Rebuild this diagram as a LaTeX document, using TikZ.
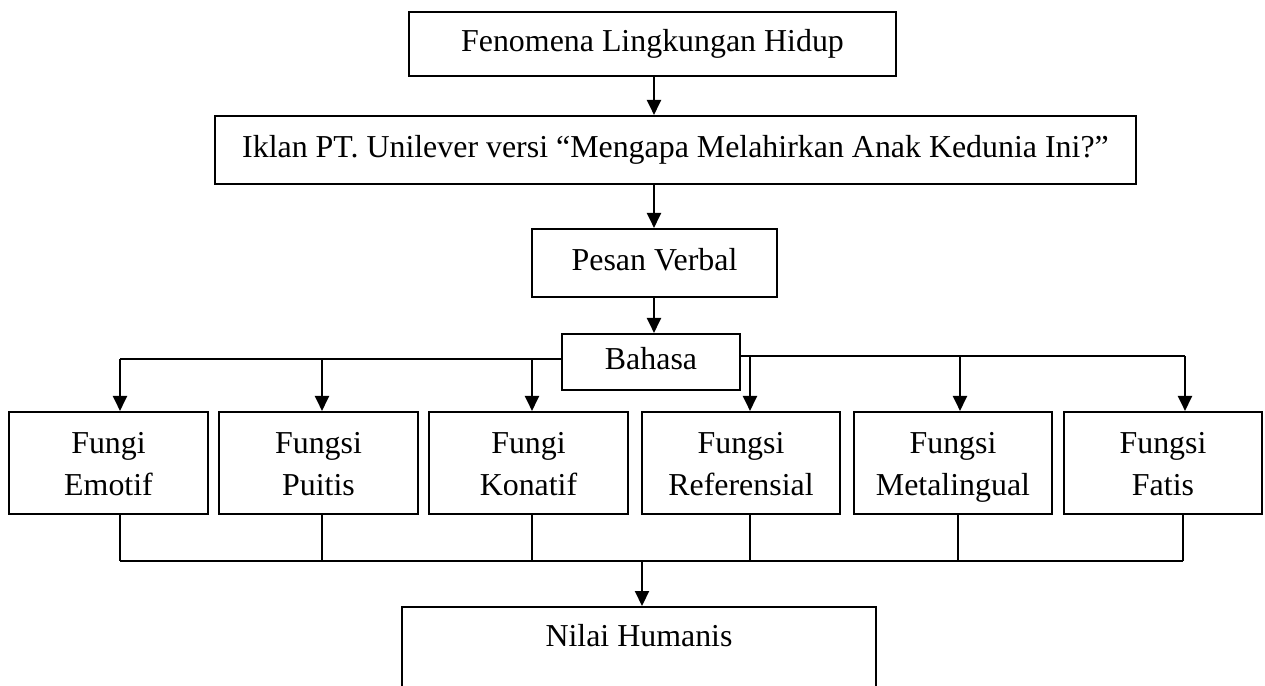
\documentclass[tikz,border=0pt]{standalone}
\usepackage{fontspec}
\setmainfont{Liberation Serif}
\usetikzlibrary{arrows.meta}
\begin{document}
\begin{tikzpicture}[x=1pt,y=-1pt,
  box/.style={draw,line width=2.1pt,rectangle,inner sep=0pt,
    font=\fontsize{31.9pt}{42pt}\selectfont,
    text height=22.3pt,text depth=8pt},
  fbox/.style={box,align=center,minimum height=102pt,
    text height=68pt,text depth=4pt},
  arr/.style={line width=2.1pt,-{Triangle[length=15pt,width=14pt]}},
  ln/.style={line width=2.1pt}]
\useasboundingbox (0,0) rectangle (1265,685);
\fill[white] (0,0) rectangle (1265,685);
% top chain
\node[box,minimum width=487pt,minimum height=64pt] (fen) at (652.5,44) {Fenomena Lingkungan Hidup};
\node[box,minimum width=921pt,minimum height=68pt] (ikl) at (675.5,150) {Iklan PT. Unilever versi “Mengapa Melahirkan Anak Kedunia Ini?”};
\node[box,minimum width=245pt,minimum height=68pt] (pes) at (654.5,263) {Pesan Verbal};
\node[box,minimum width=178pt,minimum height=56pt] (bah) at (651,362) {Bahasa};
% function boxes
\node[fbox,minimum width=199pt] (emo) at (108.5,463) {Fungi\\Emotif};
\node[fbox,minimum width=199pt] (pui) at (318.5,463) {Fungsi\\Puitis};
\node[fbox,minimum width=199pt] (kon) at (528.5,463) {Fungi\\Konatif};
\node[fbox,minimum width=198pt] (ref) at (741,463) {Fungsi\\Referensial};
\node[fbox,minimum width=198pt] (met) at (953,463) {Fungsi\\Metalingual};
\node[fbox,minimum width=198pt] (fat) at (1163,463) {Fungsi\\Fatis};
% result
\node[box,anchor=north,minimum width=474pt,inner ysep=16.7pt,text depth=70pt] (nil) at (639,606) {Nilai Humanis};
% helper coordinates
\coordinate (ax) at (654,0);
\coordinate (L) at (120,359);
\coordinate (R) at (1185,356);
\coordinate (a2) at (322,359);
\coordinate (a3) at (532,359);
\coordinate (a4) at (750,356);
\coordinate (a5) at (960,356);
\coordinate (s1) at (120,561);
\coordinate (s2) at (322,561);
\coordinate (s3) at (532,561);
\coordinate (s4) at (750,561);
\coordinate (s5) at (958,561);
\coordinate (s6) at (1183,561);
\coordinate (m) at (642,561);
% chain arrows
\draw[arr] (fen.south -| ax) -- (ikl.north -| ax);
\draw[arr] (ikl.south -| ax) -- (pes.north -| ax);
\draw[arr] (pes.south -| ax) -- (bah.north -| ax);
% split
\draw[ln] (bah.west |- L) -- (L);
\draw[ln] (bah.east |- R) -- (R);
\draw[arr] (L) -- (L |- emo.north);
\draw[arr] (a2) -- (a2 |- pui.north);
\draw[arr] (a3) -- (a3 |- kon.north);
\draw[arr] (a4) -- (a4 |- ref.north);
\draw[arr] (a5) -- (a5 |- met.north);
\draw[arr] (R) -- (R |- fat.north);
% merge
\draw[ln] (s1 |- emo.south) -- (s1);
\draw[ln] (s2 |- pui.south) -- (s2);
\draw[ln] (s3 |- kon.south) -- (s3);
\draw[ln] (s4 |- ref.south) -- (s4);
\draw[ln] (s5 |- met.south) -- (s5);
\draw[ln] (s6 |- fat.south) -- (s6);
\draw[ln] (s1) -- (s6);
\draw[arr] (m) -- (m |- nil.north);
\end{tikzpicture}
\end{document}
